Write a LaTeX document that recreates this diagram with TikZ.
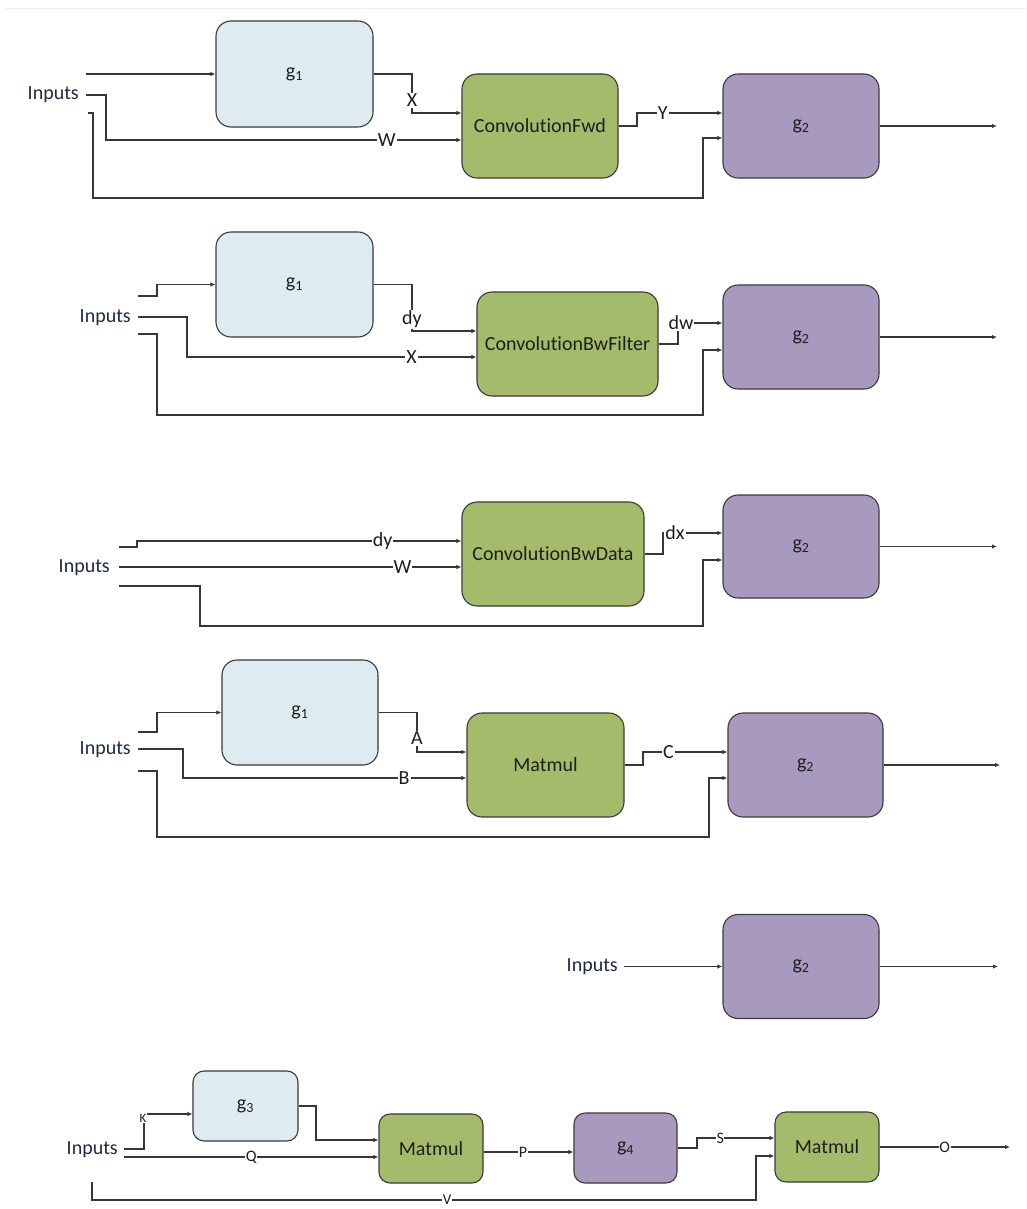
\documentclass[tikz,border=0pt]{standalone}
\usepackage{fontspec}
\setmainfont{Carlito}[Ligatures={NoCommon,NoContextual},RawFeature={-liga;-clig;-dlig}]
\usetikzlibrary{arrows.meta}
\newcommand\myfs[1]{\fontsize{#1}{#1}\selectfont}
\definecolor{bluefill}{RGB}{222,235,241}
\definecolor{greenfill}{RGB}{163,187,106}
\definecolor{purplefill}{RGB}{168,154,191}
\definecolor{edge}{RGB}{58,58,58}
\definecolor{wire}{RGB}{55,55,55}
\definecolor{txtc}{RGB}{30,30,30}
\definecolor{inc}{RGB}{31,42,68}
\tikzset{
  box/.style={draw=edge, line width=1.1pt, rounded corners=15pt, inner sep=0pt, text=txtc, font=\myfs{20}},
  sbox/.style={box, rounded corners=11pt},
  bluebox/.style={fill=bluefill},
  greenbox/.style={fill=greenfill},
  purplebox/.style={fill=purplefill},
  wr/.style={draw=wire, line width=1.1pt},
  arr/.style={wr, -{Latex[length=5pt,width=4.5pt]}},
  lbl/.style={fill=white, inner sep=1pt, text=txtc, font=\myfs{20}},
  slbl/.style={lbl, inner sep=0.5pt, font=\myfs{16}},
  inp/.style={anchor=east, inner sep=0pt, text=inc, font=\myfs{20}}
}
\begin{document}
\begin{tikzpicture}[x=1pt,y=-1pt]
\useasboundingbox[fill=white] (0,0) rectangle (1026,1209);
\draw[black!6, line width=1pt] (5,9) -- (1026,9);

% ---------- Section 1 ----------
\node[box,bluebox,minimum width=157pt,minimum height=106pt] (g1a) at (294.5,74) {g\textsubscript{1}};
\node[box,greenbox,minimum width=156pt,minimum height=104pt] (convF) at (540,126) {ConvolutionFwd};
\node[box,purplebox,minimum width=156pt,minimum height=104pt] (g2a) at (801,126) {g\textsubscript{2}};
\node[inp] (in1) at (79,95) {Inputs};
\coordinate (s1a) at (86,74);
\coordinate (s1b) at (86,95);
\coordinate (s1c) at (88,113);
\coordinate (o1) at (997,126);
\draw[arr] (s1a) -- (g1a.west);
\draw[arr] (s1b) -- (106,95) -- (106,140) -- node[lbl,pos=0.79] (lW1) {W} ([yshift=-14pt]convF.west);
\draw[arr] (s1c) -- (93,113) -- (93,198) -- (703,198) -- (703,138) -- ([yshift=-12pt]g2a.west);
\draw[arr] (g1a.east) -- (412,74) -- node[lbl,pos=0.67] (lX1) {X} (412,113) -- ([yshift=13pt]convF.west);
\draw[arr] (convF.east) -- (637,126) -- (637,113) -- node[lbl,pos=0.30] (lY1) {Y} ([yshift=13pt]g2a.west);
\draw[arr] (g2a.east) -- (o1);

% ---------- Section 2 ----------
\node[box,bluebox,minimum width=157pt,minimum height=105pt] (g1b) at (294.5,284.5) {g\textsubscript{1}};
\node[box,greenbox,minimum width=181pt,minimum height=104pt] (convBF) at (567.5,344) {ConvolutionBwFilter};
\node[box,purplebox,minimum width=156pt,minimum height=104pt] (g2b) at (801,337) {g\textsubscript{2}};
\node[inp] (in2) at (131,318) {Inputs};
\coordinate (s2a) at (138,296);
\coordinate (s2b) at (138,317);
\coordinate (s2c) at (138,334);
\coordinate (o2) at (997,337);
\draw[arr] (s2a) -- (157,296) -- (157,284.5) -- (g1b.west);
\draw[arr] (s2b) -- (187,317) -- (187,357) -- node[lbl,pos=0.776] (lX2) {X} ([yshift=-13pt]convBF.west);
\draw[arr] (s2c) -- (157,334) -- (157,415) -- (703,415) -- (703,350) -- ([yshift=-13pt]g2b.west);
\draw[arr] (g1b.east) -- (412,284.5) -- node[lbl,pos=0.75] (ldy2) {dy} (412,331) -- ([yshift=13pt]convBF.west);
\draw[arr] (convBF.east) -- (678,344) -- (678,323) -- ([yshift=14pt]g2b.west);
\node[lbl] (ldw2) at (681,323) {dw};
\draw[arr] (g2b.east) -- (o2);

% ---------- Section 3 ----------
\node[box,greenbox,minimum width=182pt,minimum height=104pt] (convBD) at (553,554) {ConvolutionBwData};
\node[box,purplebox,minimum width=156pt,minimum height=103pt] (g2c) at (801,546.5) {g\textsubscript{2}};
\node[inp] (in3) at (110,568) {Inputs};
\coordinate (s3a) at (119,547);
\coordinate (s3b) at (119,567);
\coordinate (s3c) at (119,586);
\coordinate (o3) at (997,546.5);
\draw[arr] (s3a) -- (137,547) -- (137,541) -- node[lbl,pos=0.757] (ldy3) {dy} ([yshift=13pt]convBD.west);
\draw[arr] (s3b) -- node[lbl,pos=0.828] (lW3) {W} ([yshift=-13pt]convBD.west);
\draw[arr] (s3c) -- (200,586) -- (200,626) -- (703,626) -- (703,560) -- ([yshift=-13.5pt]g2c.west);
\draw[arr] (convBD.east) -- (663,554) -- (663,533) -- ([yshift=13.5pt]g2c.west);
\node[lbl] (ldx3) at (675,533) {dx};
\draw[arr] (g2c.east) -- (o3);

% ---------- Section 4 ----------
\node[box,bluebox,minimum width=156pt,minimum height=105pt] (g1d) at (300,712.5) {g\textsubscript{1}};
\node[box,greenbox,minimum width=157pt,minimum height=104pt] (mm4) at (545.5,765) {Matmul};
\node[box,purplebox,minimum width=155pt,minimum height=104pt] (g2d) at (805.5,765) {g\textsubscript{2}};
\node[inp] (in4) at (131,750) {Inputs};
\coordinate (s4a) at (138,732);
\coordinate (s4b) at (138,749);
\coordinate (s4c) at (138,771);
\coordinate (o4) at (1000,765);
\draw[arr] (s4a) -- (157,732) -- (157,712.5) -- (g1d.west);
\draw[arr] (s4b) -- (183,749) -- (183,778) -- node[lbl,pos=0.78] (lB4) {B} ([yshift=-13pt]mm4.west);
\draw[arr] (s4c) -- (157,771) -- (157,837) -- (709,837) -- (709,778) -- ([yshift=-13pt]g2d.west);
\draw[arr] (g1d.east) -- (417,712.5) -- node[lbl,pos=0.65] (lA4) {A} (417,752) -- ([yshift=13pt]mm4.west);
\draw[arr] (mm4.east) -- (643,765) -- (643,752) -- node[lbl,pos=0.30] (lC4) {C} ([yshift=13pt]g2d.west);
\draw[arr] (g2d.east) -- (o4);

% ---------- Section 5 ----------
\node[box,purplebox,minimum width=156pt,minimum height=104pt] (g2e) at (801,966.5) {g\textsubscript{2}};
\node[inp] (in5) at (618,967) {Inputs};
\coordinate (s5a) at (624,966.5);
\coordinate (o5) at (998,966.5);
\draw[arr] (s5a) -- (g2e.west);
\draw[arr] (g2e.east) -- (o5);

% ---------- Section 6 ----------
\node[sbox,bluebox,minimum width=105pt,minimum height=70pt] (g3) at (245.5,1106) {g\textsubscript{3}};
\node[sbox,greenbox,minimum width=104pt,minimum height=69pt] (mm6a) at (431,1148.5) {Matmul};
\node[sbox,purplebox,minimum width=103pt,minimum height=70pt] (g4) at (625.5,1148) {g\textsubscript{4}};
\node[sbox,greenbox,minimum width=104pt,minimum height=70pt] (mm6b) at (827,1147) {Matmul};
\node[inp] (in6) at (118,1150) {Inputs};
\coordinate (s6a) at (124,1149);
\coordinate (s6b) at (124,1157);
\coordinate (s6c) at (92,1182);
\coordinate (o6) at (1010,1147);
\draw[arr] (s6a) -- (144,1149) -- (144,1114) -- ([yshift=-8pt]g3.west);
\node[slbl,font=\myfs{13}] (lK6) at (143,1118) {K};
\draw[arr] (s6b) -- node[slbl,pos=0.50] (lQ6) {Q} ([yshift=-8.5pt]mm6a.west);
\draw[arr] (s6c) -- (92,1200) -- node[slbl,pos=0.535,font=\myfs{15}] (lV6) {V} (756,1200) -- (756,1156) -- ([yshift=-9pt]mm6b.west);
\draw[arr] (g3.east) -- (316,1106) -- (316,1140) -- ([yshift=8.5pt]mm6a.west);
\draw[arr] ([yshift=-3.5pt]mm6a.east) -- node[slbl,pos=0.44] (lP6) {P} ([yshift=-4pt]g4.west);
\draw[arr] (g4.east) -- (697,1148) -- (697,1138) -- node[slbl,pos=0.30] (lS6) {S} ([yshift=9pt]mm6b.west);
\draw[arr] (mm6b.east) -- node[slbl,pos=0.50] (lO6) {O} (o6);
\end{tikzpicture}
\end{document}
